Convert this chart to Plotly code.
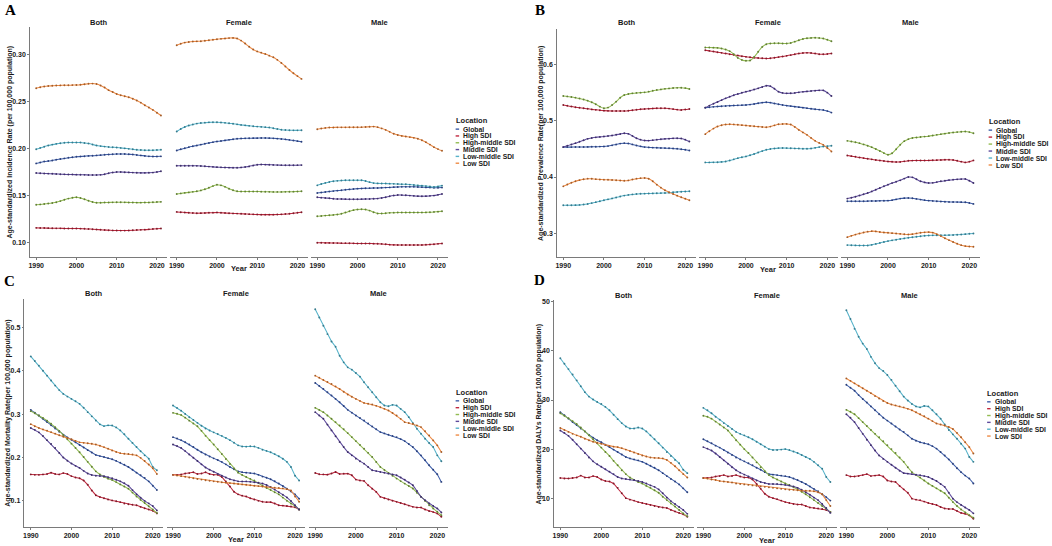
import plotly.graph_objects as go

W, H = 1052, 546

YEARS = [1990, 1991, 1992, 1993, 1994, 1995, 1996, 1997, 1998, 1999,
         2000, 2001, 2002, 2003, 2004, 2005, 2006, 2007, 2008, 2009,
         2010, 2011, 2012, 2013, 2014, 2015, 2016, 2017, 2018, 2019,
         2020, 2021]
XTICKS = [1990, 2000, 2010, 2020]
SEXES = ["Both", "Female", "Male"]
LOCATIONS = ["Global", "High SDI", "High-middle SDI", "Middle SDI", "Low-middle SDI", "Low SDI"]
LINE_COLORS = ["#3F5FAA", "#C0283F", "#93BC52", "#5E4A9C", "#56B2C9", "#EE8B45"]
DOT_COLORS = ["#2A3F7A", "#7E1A29", "#617E35", "#3D3068", "#357A8C", "#A35C28"]

# ---------------- A: incidence ----------------
INC_BOTH = {
    "Global": [0.184, 0.185, 0.186, 0.1865, 0.187, 0.188, 0.1886, 0.1893, 0.190, 0.1905,
               0.191, 0.1913, 0.1916, 0.192, 0.1922, 0.1925, 0.1928, 0.1932, 0.1935, 0.1938,
               0.194, 0.194, 0.194, 0.1937, 0.1934, 0.193, 0.1925, 0.192, 0.1915, 0.1914,
               0.1914, 0.1915],
    "High SDI": [0.1153, 0.1152, 0.1151, 0.115, 0.1149, 0.1148, 0.1148, 0.1147, 0.1147, 0.1146,
                 0.1146, 0.1145, 0.1143, 0.1141, 0.1139, 0.1136, 0.1133, 0.113, 0.1128, 0.1126,
                 0.1125, 0.1124, 0.1124, 0.1125, 0.1127, 0.113, 0.1132, 0.1134, 0.1137, 0.1141,
                 0.1144, 0.1146],
    "High-middle SDI": [0.140, 0.1403, 0.1407, 0.1412, 0.1418, 0.1426, 0.1438, 0.1452, 0.1465, 0.1474,
                        0.148, 0.1472, 0.1458, 0.1442, 0.1428, 0.142, 0.1421, 0.1423, 0.1424, 0.1425,
                        0.1426, 0.1426, 0.1425, 0.1424, 0.1423, 0.1422, 0.1422, 0.1423, 0.1424, 0.1426,
                        0.1428, 0.143],
    "Middle SDI": [0.1737, 0.1735, 0.1733, 0.1731, 0.1729, 0.1727, 0.1725, 0.1723, 0.1722, 0.1721,
                   0.172, 0.1719, 0.1718, 0.1717, 0.1716, 0.1716, 0.1718, 0.1725, 0.1735, 0.1743,
                   0.1748, 0.1748, 0.1746, 0.1744, 0.1742, 0.174, 0.1739, 0.1739, 0.174, 0.1742,
                   0.1748, 0.1756],
    "Low-middle SDI": [0.199, 0.2005, 0.2018, 0.203, 0.204, 0.2048, 0.2055, 0.206, 0.2062, 0.2063,
                       0.2063, 0.2062, 0.2058, 0.2052, 0.2042, 0.203, 0.2024, 0.2019, 0.2015, 0.2012,
                       0.201, 0.2005, 0.200, 0.1995, 0.199, 0.1985, 0.1982, 0.198, 0.198, 0.198,
                       0.1982, 0.1985],
    "Low SDI": [0.264, 0.2651, 0.2659, 0.2664, 0.2667, 0.267, 0.2671, 0.2672, 0.2673, 0.2674,
                0.2675, 0.2678, 0.2683, 0.2688, 0.269, 0.2685, 0.267, 0.2648, 0.262, 0.26,
                0.258, 0.2566, 0.2555, 0.2544, 0.2528, 0.251, 0.2487, 0.246, 0.2436, 0.241,
                0.238, 0.235],
}
INC_FEMALE = {
    "Global": [0.1978, 0.199, 0.2002, 0.2013, 0.2022, 0.2031, 0.204, 0.2049, 0.2058, 0.2066,
               0.2073, 0.2079, 0.2085, 0.2091, 0.2097, 0.2102, 0.2105, 0.2107, 0.2108, 0.2109,
               0.2109, 0.211, 0.211, 0.2109, 0.2107, 0.2104, 0.21, 0.2096, 0.209, 0.2084,
               0.2077, 0.207],
    "High SDI": [0.1323, 0.132, 0.1317, 0.1314, 0.1311, 0.1309, 0.131, 0.1312, 0.1314, 0.1315,
                 0.1316, 0.1314, 0.1311, 0.1309, 0.1307, 0.1305, 0.1303, 0.1301, 0.1299, 0.1297,
                 0.1295, 0.1294, 0.1294, 0.1294, 0.1294, 0.1295, 0.1297, 0.13, 0.1304, 0.1309,
                 0.1314, 0.132],
    "High-middle SDI": [0.1514, 0.152, 0.1526, 0.1531, 0.1537, 0.1543, 0.1552, 0.1564, 0.158, 0.1598,
                        0.1613, 0.1606, 0.159, 0.157, 0.1554, 0.1543, 0.154, 0.154, 0.154, 0.154,
                        0.154, 0.1539, 0.1538, 0.1537, 0.1536, 0.1536, 0.1536, 0.1537, 0.1538, 0.1539,
                        0.1541, 0.1543],
    "Middle SDI": [0.1815, 0.1815, 0.1815, 0.1815, 0.1815, 0.1814, 0.1812, 0.1809, 0.1806, 0.1803,
                   0.180, 0.1798, 0.1796, 0.1795, 0.1794, 0.1794, 0.1797, 0.1802, 0.1808, 0.1818,
                   0.1826, 0.1828, 0.1827, 0.1826, 0.1824, 0.1822, 0.1821, 0.182, 0.182, 0.182,
                   0.1821, 0.1822],
    "Low-middle SDI": [0.218, 0.2206, 0.2228, 0.2243, 0.2255, 0.2264, 0.227, 0.2274, 0.2277, 0.2278,
                       0.2278, 0.2276, 0.2272, 0.2268, 0.2262, 0.2256, 0.225, 0.2245, 0.224, 0.2236,
                       0.2232, 0.2229, 0.2226, 0.2222, 0.2215, 0.2207, 0.2199, 0.2195, 0.2193, 0.2192,
                       0.2192, 0.2193],
    "Low SDI": [0.3099, 0.3115, 0.3127, 0.3134, 0.3138, 0.314, 0.3141, 0.3146, 0.3152, 0.3158,
                0.3163, 0.3167, 0.3171, 0.3175, 0.3177, 0.317, 0.3148, 0.3117, 0.3083, 0.3053,
                0.3033, 0.302, 0.3005, 0.2988, 0.297, 0.2943, 0.291, 0.2873, 0.2835, 0.280,
                0.277, 0.274],
}
INC_MALE = {
    "Global": [0.1525, 0.153, 0.1535, 0.154, 0.1545, 0.155, 0.1554, 0.1559, 0.1563, 0.1567,
               0.1571, 0.1573, 0.1575, 0.1576, 0.1577, 0.1578, 0.158, 0.1582, 0.1584, 0.1587,
               0.1589, 0.159, 0.159, 0.159, 0.159, 0.1589, 0.1587, 0.1584, 0.1582, 0.1581,
               0.1581, 0.1582],
    "High SDI": [0.0994, 0.0994, 0.0993, 0.0993, 0.0992, 0.0991, 0.099, 0.099, 0.0989, 0.0988,
                 0.0987, 0.0987, 0.0986, 0.0986, 0.0985, 0.0984, 0.0982, 0.0978, 0.0974, 0.0972,
                 0.0971, 0.0971, 0.097, 0.097, 0.097, 0.097, 0.0971, 0.0973, 0.0976, 0.0979,
                 0.0983, 0.0987],
    "High-middle SDI": [0.1277, 0.128, 0.1284, 0.1287, 0.1291, 0.1295, 0.1304, 0.1316, 0.133, 0.1342,
                        0.1349, 0.1352, 0.1348, 0.1337, 0.132, 0.1306, 0.1306, 0.1309, 0.1313, 0.1315,
                        0.1316, 0.1316, 0.1316, 0.1316, 0.1316, 0.1316, 0.1316, 0.1318, 0.132, 0.1323,
                        0.1326, 0.133],
    "Middle SDI": [0.1479, 0.1475, 0.1472, 0.1468, 0.1464, 0.1461, 0.146, 0.1459, 0.1458, 0.1458,
                   0.1458, 0.1459, 0.146, 0.1461, 0.1463, 0.1465, 0.1472, 0.148, 0.149, 0.1498,
                   0.1504, 0.1502, 0.15, 0.1497, 0.1494, 0.1491, 0.149, 0.1491, 0.1494, 0.1497,
                   0.1505, 0.1514],
    "Low-middle SDI": [0.1606, 0.162, 0.1632, 0.1642, 0.1649, 0.1654, 0.1658, 0.166, 0.166, 0.166,
                       0.166, 0.166, 0.1652, 0.164, 0.163, 0.1627, 0.1626, 0.1625, 0.1624, 0.1622,
                       0.162, 0.1618, 0.1617, 0.1614, 0.161, 0.1606, 0.1603, 0.1598, 0.1593, 0.1589,
                       0.1594, 0.1603],
    "Low SDI": [0.2204, 0.2212, 0.2218, 0.2222, 0.2223, 0.2224, 0.2224, 0.2224, 0.2225, 0.2225,
                0.2225, 0.2226, 0.2228, 0.223, 0.2232, 0.2226, 0.2213, 0.2197, 0.2176, 0.2155,
                0.2142, 0.2133, 0.2126, 0.212, 0.2112, 0.2102, 0.2086, 0.2066, 0.204, 0.2013,
                0.1992, 0.1974],
}

# ---------------- B: prevalence ----------------
PREV_BOTH = {
    "Global": [0.453, 0.453, 0.453, 0.4531, 0.4532, 0.4533, 0.4534, 0.4535, 0.4537, 0.4539,
               0.4541, 0.4548, 0.4561, 0.4577, 0.4592, 0.46, 0.4593, 0.4578, 0.4559, 0.4543,
               0.453, 0.4525, 0.4521, 0.4518, 0.4515, 0.4512, 0.4509, 0.4506, 0.45, 0.4492,
               0.4482, 0.447],
    "High SDI": [0.5276, 0.5262, 0.5249, 0.5237, 0.5227, 0.5218, 0.521, 0.5198, 0.519, 0.5182,
                 0.5176, 0.5172, 0.517, 0.5169, 0.5169, 0.517, 0.5175, 0.5183, 0.5192, 0.52,
                 0.5206, 0.521, 0.5214, 0.5217, 0.5218, 0.5217, 0.5212, 0.5203, 0.5194, 0.5188,
                 0.5195, 0.5206],
    "High-middle SDI": [0.5435, 0.5428, 0.5418, 0.5406, 0.5392, 0.5374, 0.5353, 0.5325, 0.529, 0.5247,
                        0.5218, 0.523, 0.5275, 0.5335, 0.5405, 0.5453, 0.547, 0.5482, 0.549, 0.5495,
                        0.55, 0.5512, 0.5527, 0.5541, 0.5552, 0.5562, 0.557, 0.5576, 0.558, 0.5582,
                        0.5575, 0.5559],
    "Middle SDI": [0.453, 0.4553, 0.4577, 0.46, 0.4626, 0.4651, 0.4676, 0.4691, 0.4703, 0.4711,
                   0.4718, 0.4726, 0.4735, 0.4748, 0.4763, 0.4776, 0.4765, 0.4728, 0.4688, 0.4662,
                   0.4647, 0.4645, 0.4653, 0.4662, 0.4669, 0.4676, 0.468, 0.4685, 0.4688, 0.4682,
                   0.4662, 0.4629],
    "Low-middle SDI": [0.35, 0.35, 0.35, 0.3502, 0.3506, 0.3512, 0.3523, 0.3538, 0.3555, 0.3572,
                       0.3588, 0.3604, 0.3621, 0.3638, 0.3655, 0.3671, 0.3683, 0.3692, 0.3699, 0.3703,
                       0.3706, 0.3708, 0.371, 0.3712, 0.3715, 0.3718, 0.3723, 0.3729, 0.3735, 0.374,
                       0.3744, 0.3747],
    "Low SDI": [0.3835, 0.3868, 0.3898, 0.3924, 0.3945, 0.396, 0.3971, 0.3968, 0.3962, 0.3957,
                0.3953, 0.3951, 0.3948, 0.3944, 0.3939, 0.3935, 0.394, 0.3955, 0.3971, 0.398,
                0.3982, 0.397, 0.3925, 0.3865, 0.3812, 0.3765, 0.373, 0.370, 0.367, 0.3641,
                0.3614, 0.3588],
}
PREV_FEMALE = {
    "Global": [0.5229, 0.5237, 0.5243, 0.5249, 0.5254, 0.5259, 0.5263, 0.5267, 0.527, 0.5273,
               0.5276, 0.5283, 0.5294, 0.5307, 0.5318, 0.5324, 0.5318, 0.5303, 0.5288, 0.5275,
               0.5265, 0.5256, 0.5247, 0.5238, 0.5229, 0.522, 0.521, 0.520, 0.5194, 0.5188,
               0.5168, 0.5141],
    "High SDI": [0.6247, 0.6235, 0.6223, 0.6211, 0.620, 0.6188, 0.6176, 0.6164, 0.6152, 0.614,
                 0.6129, 0.6121, 0.6114, 0.6108, 0.6103, 0.610, 0.6103, 0.6112, 0.6124, 0.6136,
                 0.6147, 0.616, 0.6175, 0.6188, 0.6196, 0.620, 0.6197, 0.6188, 0.6176, 0.6175,
                 0.618, 0.6188],
    "High-middle SDI": [0.6294, 0.6294, 0.6292, 0.6288, 0.6278, 0.6258, 0.623, 0.6175, 0.611, 0.6075,
                        0.6059, 0.6065, 0.6125, 0.6218, 0.6305, 0.6353, 0.6366, 0.6371, 0.6369, 0.6366,
                        0.6365, 0.6375, 0.6398, 0.6424, 0.6445, 0.6458, 0.6465, 0.6466, 0.6462, 0.6453,
                        0.6432, 0.6406],
    "Middle SDI": [0.5229, 0.5265, 0.5298, 0.533, 0.5362, 0.5394, 0.5422, 0.5448, 0.547, 0.5492,
                   0.5512, 0.553, 0.555, 0.5571, 0.5595, 0.5618, 0.561, 0.5565, 0.5512, 0.549,
                   0.5482, 0.5484, 0.549, 0.550, 0.5509, 0.5517, 0.5524, 0.553, 0.5535, 0.5535,
                   0.5495, 0.5435],
    "Low-middle SDI": [0.4259, 0.4259, 0.426, 0.4262, 0.4268, 0.4276, 0.4292, 0.4313, 0.4334, 0.435,
                       0.4365, 0.4385, 0.4408, 0.4434, 0.4459, 0.4482, 0.4497, 0.4506, 0.4512, 0.4513,
                       0.4512, 0.451, 0.4507, 0.4504, 0.4501, 0.450, 0.4506, 0.4517, 0.453, 0.454,
                       0.4547, 0.4553],
    "Low SDI": [0.4759, 0.4812, 0.4858, 0.4894, 0.4917, 0.493, 0.4935, 0.4932, 0.4926, 0.4919,
                0.4912, 0.4906, 0.490, 0.4893, 0.4887, 0.4882, 0.4893, 0.4915, 0.4935, 0.494,
                0.4941, 0.493, 0.4888, 0.4835, 0.479, 0.4747, 0.4693, 0.4641, 0.4604, 0.457,
                0.4515, 0.4453],
}
PREV_MALE = {
    "Global": [0.3571, 0.3571, 0.3571, 0.3571, 0.3572, 0.3573, 0.3574, 0.3576, 0.3578, 0.358,
               0.3582, 0.359, 0.3604, 0.3618, 0.3626, 0.3629, 0.3624, 0.3612, 0.360, 0.359,
               0.3582, 0.3577, 0.3572, 0.3567, 0.3563, 0.3559, 0.3557, 0.3556, 0.3555, 0.3553,
               0.3541, 0.3524],
    "High SDI": [0.4382, 0.437, 0.4358, 0.4346, 0.4335, 0.4324, 0.4313, 0.4302, 0.4292, 0.4283,
                 0.4276, 0.427, 0.4265, 0.4268, 0.4278, 0.4288, 0.4291, 0.4292, 0.4293, 0.4293,
                 0.4294, 0.4296, 0.4299, 0.4302, 0.4305, 0.4306, 0.4302, 0.4289, 0.4272, 0.4259,
                 0.4272, 0.4294],
    "High-middle SDI": [0.4641, 0.463, 0.4617, 0.460, 0.4578, 0.4555, 0.4529, 0.4497, 0.4462, 0.4424,
                        0.4394, 0.442, 0.4492, 0.4571, 0.4635, 0.4671, 0.469, 0.470, 0.4708, 0.4716,
                        0.4724, 0.4735, 0.4747, 0.4759, 0.4769, 0.4779, 0.4788, 0.4796, 0.4802, 0.4806,
                        0.4796, 0.4776],
    "Middle SDI": [0.3618, 0.3633, 0.365, 0.3672, 0.3695, 0.3718, 0.3745, 0.3775, 0.3806, 0.3836,
                   0.3865, 0.3892, 0.3917, 0.3941, 0.3972, 0.400, 0.3994, 0.396, 0.3924, 0.3905,
                   0.3894, 0.3897, 0.391, 0.3924, 0.3935, 0.3945, 0.3953, 0.3959, 0.3963, 0.3965,
                   0.3935, 0.3894],
    "Low-middle SDI": [0.2794, 0.2791, 0.2789, 0.2788, 0.2787, 0.2788, 0.2798, 0.2815, 0.2833, 0.285,
                       0.2865, 0.2878, 0.289, 0.2902, 0.2913, 0.2924, 0.2934, 0.2943, 0.2951, 0.2959,
                       0.2965, 0.2967, 0.2968, 0.2969, 0.297, 0.2971, 0.2974, 0.2978, 0.2982, 0.2988,
                       0.2994, 0.300],
    "Low SDI": [0.2935, 0.2958, 0.298, 0.300, 0.3018, 0.3032, 0.3041, 0.3037, 0.3025, 0.3018,
                0.3012, 0.3006, 0.300, 0.2993, 0.2986, 0.2982, 0.2988, 0.3001, 0.3012, 0.302,
                0.3024, 0.3015, 0.2988, 0.2953, 0.2916, 0.2882, 0.285, 0.2818, 0.2793, 0.2776,
                0.2768, 0.2765],
}

# ---------------- C: mortality ----------------
MORT_BOTH = {
    "Global": [0.31, 0.3035, 0.297, 0.2895, 0.282, 0.2745, 0.267, 0.2595, 0.252, 0.2465,
               0.241, 0.235, 0.229, 0.223, 0.217, 0.2115, 0.206, 0.2032, 0.201, 0.1985,
               0.196, 0.1922, 0.188, 0.1832, 0.178, 0.1717, 0.165, 0.159, 0.153, 0.145,
               0.135, 0.125],
    "High SDI": [0.161, 0.16, 0.16, 0.161, 0.162, 0.165, 0.162, 0.161, 0.164, 0.162,
                 0.157, 0.154, 0.152, 0.147, 0.137, 0.124, 0.113, 0.109, 0.106, 0.103,
                 0.101, 0.099, 0.097, 0.094, 0.092, 0.091, 0.09, 0.086, 0.083, 0.08,
                 0.077, 0.071],
    "High-middle SDI": [0.307, 0.3022, 0.297, 0.2912, 0.285, 0.2778, 0.27, 0.2612, 0.252, 0.2422,
                        0.232, 0.222, 0.212, 0.2012, 0.19, 0.1788, 0.168, 0.1608, 0.155, 0.1512,
                        0.148, 0.1432, 0.138, 0.133, 0.128, 0.119, 0.11, 0.1022, 0.095, 0.0875,
                        0.08, 0.072],
    "Middle SDI": [0.268, 0.2638, 0.258, 0.2495, 0.24, 0.231, 0.222, 0.2105, 0.2, 0.1925,
                   0.186, 0.1808, 0.176, 0.1692, 0.163, 0.1598, 0.158, 0.1575, 0.157, 0.1548,
                   0.152, 0.1488, 0.145, 0.1408, 0.135, 0.1248, 0.115, 0.1072, 0.1, 0.0942,
                   0.088, 0.078],
    "Low-middle SDI": [0.4333, 0.4228, 0.4119, 0.4003, 0.3889, 0.3775, 0.3659, 0.3555, 0.3467, 0.3405,
                       0.3352, 0.3298, 0.3238, 0.3148, 0.3046, 0.295, 0.2854, 0.2765, 0.2724, 0.2742,
                       0.274, 0.2695, 0.2625, 0.2535, 0.2433, 0.2337, 0.2241, 0.2146, 0.205, 0.1973,
                       0.1782, 0.1705],
    "Low SDI": [0.277, 0.2722, 0.268, 0.2648, 0.262, 0.2585, 0.255, 0.2515, 0.248, 0.245,
                0.242, 0.2382, 0.235, 0.2338, 0.233, 0.2318, 0.23, 0.2272, 0.224, 0.2202,
                0.216, 0.2128, 0.21, 0.2088, 0.208, 0.207, 0.205, 0.1992, 0.192, 0.1838,
                0.175, 0.162],
}
MORT_FEMALE = {
    "Global": [0.247, 0.2438, 0.24, 0.2352, 0.23, 0.2242, 0.218, 0.2122, 0.207, 0.2022,
               0.198, 0.1942, 0.19, 0.1842, 0.178, 0.1728, 0.168, 0.1662, 0.165, 0.164,
               0.163, 0.16, 0.156, 0.1532, 0.15, 0.1452, 0.14, 0.1342, 0.128, 0.1218,
               0.115, 0.105],
    "High SDI": [0.16, 0.16, 0.161, 0.163, 0.164, 0.166, 0.162, 0.163, 0.166, 0.162,
                 0.16, 0.16, 0.155, 0.145, 0.133, 0.121, 0.115, 0.112, 0.11, 0.106,
                 0.103, 0.1, 0.098, 0.097, 0.097, 0.094, 0.09, 0.089, 0.088, 0.087,
                 0.085, 0.08],
    "High-middle SDI": [0.303, 0.3008, 0.298, 0.292, 0.285, 0.2785, 0.272, 0.2615, 0.25, 0.24,
                        0.23, 0.2192, 0.208, 0.1965, 0.185, 0.1748, 0.165, 0.1595, 0.155, 0.1508,
                        0.147, 0.1412, 0.135, 0.1298, 0.125, 0.12, 0.115, 0.1075, 0.1, 0.0938,
                        0.088, 0.08],
    "Middle SDI": [0.23, 0.2265, 0.222, 0.2148, 0.207, 0.1995, 0.192, 0.1842, 0.177, 0.1718,
                   0.167, 0.1622, 0.158, 0.1538, 0.15, 0.1472, 0.145, 0.1448, 0.145, 0.1442,
                   0.143, 0.1418, 0.14, 0.1365, 0.132, 0.126, 0.12, 0.114, 0.108, 0.0995,
                   0.09, 0.08],
    "Low-middle SDI": [0.32, 0.3145, 0.308, 0.3005, 0.293, 0.2865, 0.28, 0.2732, 0.267, 0.2622,
                       0.258, 0.2542, 0.25, 0.2452, 0.24, 0.234, 0.228, 0.2255, 0.225, 0.2258,
                       0.2255, 0.2222, 0.218, 0.2152, 0.212, 0.2078, 0.203, 0.197, 0.19, 0.178,
                       0.158, 0.147],
    "Low SDI": [0.16, 0.1585, 0.157, 0.1555, 0.1538, 0.152, 0.1505, 0.149, 0.1476, 0.1462,
                0.145, 0.144, 0.143, 0.142, 0.141, 0.14, 0.139, 0.138, 0.137, 0.136,
                0.135, 0.134, 0.133, 0.132, 0.131, 0.1305, 0.13, 0.1288, 0.127, 0.124,
                0.11, 0.098],
}
MORT_MALE = {
    "Global": [0.372, 0.3651, 0.3582, 0.3505, 0.3429, 0.3352, 0.3276, 0.3188, 0.31, 0.3035,
               0.2969, 0.2912, 0.2854, 0.2785, 0.2716, 0.2651, 0.2586, 0.2556, 0.2525, 0.2498,
               0.2471, 0.2425, 0.2379, 0.231, 0.2241, 0.2146, 0.205, 0.1935, 0.182, 0.1716,
               0.1613, 0.1437],
    "High SDI": [0.1644, 0.1613, 0.161, 0.1605, 0.163, 0.1667, 0.162, 0.1628, 0.1628, 0.159,
                 0.149, 0.147, 0.146, 0.136, 0.128, 0.1207, 0.1092, 0.106, 0.103, 0.1003,
                 0.0977, 0.095, 0.0923, 0.089, 0.0862, 0.0847, 0.0845, 0.08, 0.0762, 0.074,
                 0.0709, 0.0632],
    "High-middle SDI": [0.3146, 0.3096, 0.3046, 0.297, 0.2893, 0.2816, 0.2739, 0.2651, 0.2563, 0.2471,
                        0.2379, 0.2291, 0.2203, 0.2107, 0.2011, 0.1897, 0.1782, 0.1713, 0.1644, 0.1578,
                        0.1513, 0.1456, 0.1398, 0.1341, 0.1284, 0.1188, 0.1092, 0.0996, 0.09, 0.0824,
                        0.0747, 0.067],
    "Middle SDI": [0.3046, 0.297, 0.2893, 0.2759, 0.2625, 0.249, 0.2356, 0.2241, 0.2126, 0.205,
                   0.1973, 0.1915, 0.1858, 0.1782, 0.1705, 0.1686, 0.1667, 0.1648, 0.1628, 0.1609,
                   0.159, 0.154, 0.149, 0.1425, 0.136, 0.1226, 0.1092, 0.1016, 0.0939, 0.0882,
                   0.0824, 0.0732],
    "Low-middle SDI": [0.5421, 0.523, 0.504, 0.4847, 0.4678, 0.4556, 0.4349, 0.4195, 0.408, 0.4027,
                       0.395, 0.3866, 0.3736, 0.3621, 0.3506, 0.3391, 0.3276, 0.32, 0.3184, 0.3215,
                       0.32, 0.3123, 0.3046, 0.2931, 0.2793, 0.2663, 0.2548, 0.2433, 0.2333, 0.2241,
                       0.205, 0.1912],
    "Low SDI": [0.3889, 0.3839, 0.3789, 0.3743, 0.3697, 0.364, 0.3582, 0.3517, 0.3452, 0.3402,
                0.3352, 0.3306, 0.326, 0.324, 0.3222, 0.3192, 0.3161, 0.3122, 0.3084, 0.3026,
                0.2969, 0.2892, 0.2816, 0.2795, 0.2778, 0.274, 0.2701, 0.2605, 0.251, 0.2395,
                0.228, 0.2126],
}

# ---------------- D: DALYs ----------------
DALY_BOTH = {
    "Global": [27.5, 26.9, 26.2, 25.5, 24.9, 24.2, 23.6, 22.9, 22.3, 21.8,
               21.4, 20.9, 20.4, 19.9, 19.4, 18.9, 18.4, 18.1, 17.9, 17.7,
               17.4, 17.0, 16.6, 16.2, 15.7, 15.1, 14.5, 13.9, 13.4, 12.8,
               12.0, 11.2],
    "High SDI": [14.1, 14.0, 14.0, 14.1, 14.2, 14.6, 14.2, 14.2, 14.5, 14.3,
                 13.8, 13.5, 13.4, 13.0, 12.1, 11.0, 10.0, 9.7, 9.5, 9.2,
                 9.0, 8.8, 8.6, 8.4, 8.2, 8.1, 8.0, 7.6, 7.3, 7.0,
                 6.7, 6.2],
    "High-middle SDI": [27.3, 26.8, 26.3, 25.7, 25.1, 24.4, 23.6, 22.8, 22.0, 21.2,
                        20.3, 19.4, 18.6, 17.6, 16.7, 15.7, 14.9, 14.2, 13.7, 13.3,
                        13.0, 12.5, 12.1, 11.6, 11.1, 10.3, 9.6, 8.9, 8.3, 7.6,
                        6.9, 6.3],
    "Middle SDI": [23.8, 23.3, 22.7, 21.9, 21.0, 20.1, 19.2, 18.3, 17.5, 16.9,
                   16.4, 15.9, 15.4, 14.9, 14.3, 14.0, 13.9, 13.8, 13.7, 13.5,
                   13.3, 13.0, 12.6, 12.3, 11.8, 11.0, 10.1, 9.4, 8.8, 8.2,
                   7.6, 6.8],
    "Low-middle SDI": [38.5, 37.4, 36.3, 35.2, 34.0, 32.8, 31.6, 30.7, 30.1, 29.6,
                       29.2, 28.6, 27.9, 27.0, 26.1, 25.3, 24.6, 24.2, 24.2, 24.4,
                       24.2, 23.6, 22.8, 22.0, 21.2, 20.3, 19.4, 18.6, 17.8, 17.1,
                       15.8, 15.1],
    "Low SDI": [24.3, 23.9, 23.5, 23.1, 22.8, 22.5, 22.1, 21.8, 21.5, 21.3,
                21.1, 20.8, 20.6, 20.5, 20.4, 20.2, 19.9, 19.6, 19.3, 19.0,
                18.7, 18.5, 18.3, 18.2, 18.2, 18.1, 17.8, 17.2, 16.5, 15.7,
                14.9, 14.2],
}
DALY_FEMALE = {
    "Global": [22.0, 21.6, 21.2, 20.7, 20.3, 19.8, 19.3, 18.8, 18.3, 17.9,
               17.5, 17.1, 16.7, 16.2, 15.8, 15.3, 14.9, 14.8, 14.7, 14.6,
               14.5, 14.3, 14.0, 13.7, 13.3, 12.9, 12.4, 11.9, 11.4, 10.8,
               10.2, 9.5],
    "High SDI": [14.1, 14.1, 14.2, 14.4, 14.5, 14.7, 14.4, 14.5, 14.7, 14.4,
                 14.2, 14.2, 13.8, 12.9, 11.9, 10.9, 10.3, 10.0, 9.8, 9.5,
                 9.2, 9.0, 8.8, 8.7, 8.7, 8.4, 8.1, 8.0, 7.9, 7.8,
                 7.6, 7.2],
    "High-middle SDI": [26.8, 26.6, 26.2, 25.6, 25.0, 24.4, 23.8, 22.8, 21.8, 20.9,
                        20.0, 19.2, 18.3, 17.3, 16.3, 15.5, 14.7, 14.2, 13.8, 13.4,
                        13.0, 12.7, 12.3, 11.8, 11.3, 10.8, 10.2, 9.6, 9.0, 8.4,
                        7.8, 7.2],
    "Middle SDI": [20.4, 20.1, 19.7, 19.1, 18.4, 17.7, 17.0, 16.3, 15.7, 15.2,
                   14.8, 14.4, 14.0, 13.6, 13.3, 13.1, 12.9, 12.9, 12.9, 12.8,
                   12.7, 12.6, 12.4, 12.1, 11.7, 11.2, 10.7, 10.1, 9.6, 8.8,
                   8.0, 7.0],
    "Low-middle SDI": [28.4, 27.9, 27.3, 26.6, 26.0, 25.3, 24.7, 24.1, 23.5, 23.1,
                       22.8, 22.4, 22.0, 21.5, 21.0, 20.5, 20.0, 19.8, 19.8, 19.9,
                       20.0, 19.8, 19.5, 19.2, 18.8, 18.4, 18.0, 17.4, 16.7, 16.0,
                       14.3, 13.3],
    "Low SDI": [14.1, 14.0, 13.8, 13.7, 13.5, 13.4, 13.3, 13.2, 13.0, 12.9,
                12.8, 12.7, 12.6, 12.5, 12.4, 12.3, 12.2, 12.1, 12.0, 11.9,
                11.8, 11.7, 11.7, 11.6, 11.5, 11.5, 11.5, 11.4, 11.2, 10.8,
                9.6, 8.4],
}
DALY_MALE = {
    "Global": [33.1, 32.5, 31.9, 31.0, 30.2, 29.5, 28.7, 27.9, 27.1, 26.4,
               25.8, 25.2, 24.6, 24.0, 23.5, 22.8, 22.1, 21.7, 21.4, 21.2,
               21.0, 20.6, 20.1, 19.4, 18.7, 17.9, 17.0, 16.1, 15.3, 14.6,
               14.0, 13.0],
    "High SDI": [14.7, 14.4, 14.4, 14.5, 14.7, 14.9, 14.5, 14.6, 14.7, 14.4,
                 13.6, 13.4, 13.3, 12.5, 11.8, 11.1, 9.9, 9.7, 9.6, 9.3,
                 9.0, 8.8, 8.6, 8.2, 7.9, 7.8, 7.8, 7.4, 7.0, 6.8,
                 6.5, 5.8],
    "High-middle SDI": [28.0, 27.6, 27.1, 26.3, 25.5, 24.7, 23.9, 23.1, 22.4, 21.6,
                        20.8, 20.0, 19.2, 18.3, 17.4, 16.3, 15.3, 14.7, 14.2, 13.6,
                        13.0, 12.5, 12.0, 11.5, 11.0, 10.1, 9.2, 8.4, 7.7, 7.1,
                        6.5, 6.0],
    "Middle SDI": [27.1, 26.4, 25.5, 24.3, 23.1, 21.9, 20.8, 19.7, 18.7, 18.0,
                   17.4, 16.8, 16.2, 15.6, 15.1, 15.0, 14.9, 14.8, 14.7, 14.5,
                   14.3, 13.9, 13.5, 12.9, 12.3, 11.1, 9.9, 9.2, 8.6, 8.1,
                   7.6, 6.9],
    "Low-middle SDI": [48.3, 46.5, 44.5, 42.9, 41.5, 40.4, 38.8, 37.5, 36.5, 35.9,
                       35.1, 34.1, 32.9, 31.8, 30.7, 29.9, 29.2, 28.7, 28.5, 28.8,
                       28.7, 27.9, 27.1, 26.2, 25.0, 23.9, 23.0, 22.1, 21.1, 20.1,
                       18.4, 17.4],
    "Low SDI": [34.4, 33.9, 33.4, 32.9, 32.4, 31.9, 31.4, 30.8, 30.3, 29.8,
                29.4, 29.1, 28.9, 28.7, 28.5, 28.2, 27.9, 27.5, 27.1, 26.7,
                26.2, 25.7, 25.2, 25.0, 24.8, 24.5, 24.1, 23.3, 22.4, 21.4,
                20.4, 19.1],
}

# axis tick values
A_TICKS = [0.10, 0.15, 0.20, 0.25, 0.30]
B_TICKS = [0.3, 0.4, 0.5, 0.6]
C_TICKS = [0.1, 0.2, 0.3, 0.4, 0.5]
D_TICKS = [10, 20, 30, 40, 50]

PANELS = [
    dict(letter="A", letter_xy=(8.7, 8.3), data=[INC_BOTH, INC_FEMALE, INC_MALE],
         title="Age-standardized Incidence Rate (per 100,000 population)", title_x=7.5,
         left=28, width=137.5, gap=3.3, top=25, bottom=256,
         yrange=[0.0842, 0.3294], ticks=A_TICKS, fmt=".2f", shape="spline",
         strip_y=21, year_y=267, leg_x=452.5, leg_y=119, leg_step=6.84),
    dict(letter="B", letter_xy=(538.7, 8.3), data=[PREV_BOTH, PREV_FEMALE, PREV_MALE],
         title="Age-standardized Prevalence Rate(per 100,000 population)", title_x=540,
         left=556, width=139, gap=3.3, top=27, bottom=256,
         yrange=[0.2582, 0.6624], ticks=B_TICKS, fmt=".1f", shape="spline",
         strip_y=21, year_y=268, leg_x=986.5, leg_y=120, leg_step=7.0),
    dict(letter="C", letter_xy=(7.7, 280), data=[MORT_BOTH, MORT_FEMALE, MORT_MALE],
         title="Age-standardized Mortality Rate(per 100,000 population)", title_x=5.8,
         left=22.5, width=139, gap=3.5, top=298, bottom=527,
         yrange=[0.0395, 0.5659], ticks=C_TICKS, fmt=".1f", shape="linear",
         strip_y=293, year_y=539, leg_x=452.5, leg_y=391.7, leg_step=6.87),
    dict(letter="D", letter_xy=(538.7, 279), data=[DALY_BOTH, DALY_FEMALE, DALY_MALE],
         title="Age-standardized DALYs Rate(per 100,000 population)", title_x=539,
         left=553, width=140, gap=3.3, top=299, bottom=527,
         yrange=[4.11, 50.4], ticks=D_TICKS, fmt="d", shape="linear",
         strip_y=295, year_y=540, leg_x=985, leg_y=392.7, leg_step=6.87),
]

FONT = "Liberation Sans, Arial, sans-serif"
TEXT_COL = "#1a1a1a"
AXIS_COL = "#7a7a7a"
XRANGE = [1988.45, 2022.55]


def fx(px):
    return px / W


def fy(py):
    return 1 - py / H


fig = go.Figure()
layout = {}
annotations = []
shapes = []

for p, pan in enumerate(PANELS):
    ydom = [fy(pan["bottom"]), fy(pan["top"])]
    centers = []
    for s, sex in enumerate(SEXES):
        n = p * 3 + s + 1
        xa = "x" if n == 1 else f"x{n}"
        ya = "y" if n == 1 else f"y{n}"
        x0 = pan["left"] + s * (pan["width"] + pan["gap"])
        x1 = x0 + pan["width"]
        centers.append((x0 + x1) / 2)
        d = pan["data"][s]
        for k, loc in enumerate(LOCATIONS):
            line = dict(color=LINE_COLORS[k], width=1.05, shape=pan["shape"])
            if pan["shape"] == "spline":
                line["smoothing"] = 0.7
            fig.add_trace(go.Scatter(
                x=YEARS, y=d[loc], mode="lines+markers", name=loc,
                line=line, marker=dict(size=1.9, color=DOT_COLORS[k]),
                xaxis=xa, yaxis=ya, showlegend=False, hoverinfo="skip"))
        layout["xaxis" if n == 1 else f"xaxis{n}"] = dict(
            domain=[fx(x0), fx(x1)], anchor=ya, range=XRANGE,
            tickvals=XTICKS, ticks="outside", ticklen=1.5, tickcolor=AXIS_COL,
            showline=True, linecolor=AXIS_COL, linewidth=1.4,
            showgrid=False, zeroline=False,
            tickfont=dict(family=FONT, size=7, color=TEXT_COL, weight="bold"))
        layout["yaxis" if n == 1 else f"yaxis{n}"] = dict(
            domain=ydom, anchor=xa, range=pan["yrange"],
            tickvals=pan["ticks"], tickformat=pan["fmt"],
            showticklabels=(s == 0), ticks="outside" if s == 0 else "",
            ticklen=1.5, tickcolor=AXIS_COL,
            showline=(s == 0), linecolor=AXIS_COL, linewidth=1.4,
            showgrid=False, zeroline=False,
            tickfont=dict(family=FONT, size=7, color=TEXT_COL, weight="bold"))
        annotations.append(dict(
            x=fx(centers[-1]), y=fy(pan["strip_y"]), xref="paper", yref="paper",
            text=sex, showarrow=False, xanchor="center", yanchor="middle",
            font=dict(family=FONT, size=7.5, color=TEXT_COL, weight="bold")))

    # panel letter
    annotations.append(dict(
        x=fx(pan["letter_xy"][0]), y=fy(pan["letter_xy"][1]), xref="paper", yref="paper",
        text=pan["letter"], showarrow=False, xanchor="center", yanchor="middle",
        font=dict(family="Liberation Serif, Times New Roman, serif", size=15,
                  color="#000000", weight="bold")))
    # y title
    annotations.append(dict(
        x=fx(pan["title_x"]), y=fy((pan["top"] + pan["bottom"]) / 2), xref="paper", yref="paper",
        text=pan["title"], showarrow=False, textangle=-90, xanchor="center", yanchor="middle",
        font=dict(family=FONT, size=7, color=TEXT_COL, weight="bold")))
    # x title
    annotations.append(dict(
        x=fx(centers[1]), y=fy(pan["year_y"]), xref="paper", yref="paper",
        text="Year", showarrow=False, xanchor="center", yanchor="middle",
        font=dict(family=FONT, size=7.5, color=TEXT_COL, weight="bold")))
    # legend
    annotations.append(dict(
        x=fx(pan["leg_x"]), y=fy(pan["leg_y"]), xref="paper", yref="paper",
        text="Location", showarrow=False, xanchor="left", yanchor="middle",
        font=dict(family=FONT, size=7.5, color=TEXT_COL, weight="bold")))
    for k, loc in enumerate(LOCATIONS):
        yy = pan["leg_y"] + 8.6 + k * pan["leg_step"]
        shapes.append(dict(
            type="line", xref="paper", yref="paper",
            x0=fx(pan["leg_x"] + 2), x1=fx(pan["leg_x"] + 5.5), y0=fy(yy), y1=fy(yy),
            line=dict(color=LINE_COLORS[k], width=1.4)))
        annotations.append(dict(
            x=fx(pan["leg_x"] + 7.5), y=fy(yy), xref="paper", yref="paper",
            text=loc, showarrow=False, xanchor="left", yanchor="middle",
            font=dict(family=FONT, size=6.8, color=TEXT_COL, weight="bold")))

fig.update_layout(
    width=W, height=H, margin=dict(l=0, r=0, t=0, b=0),
    paper_bgcolor="white", plot_bgcolor="white",
    showlegend=False, annotations=annotations, shapes=shapes, **layout)

fig.write_html("out.html", config={"displayModeBar": False},
               post_script="document.body.style.margin='0px';document.body.style.padding='0px';")
